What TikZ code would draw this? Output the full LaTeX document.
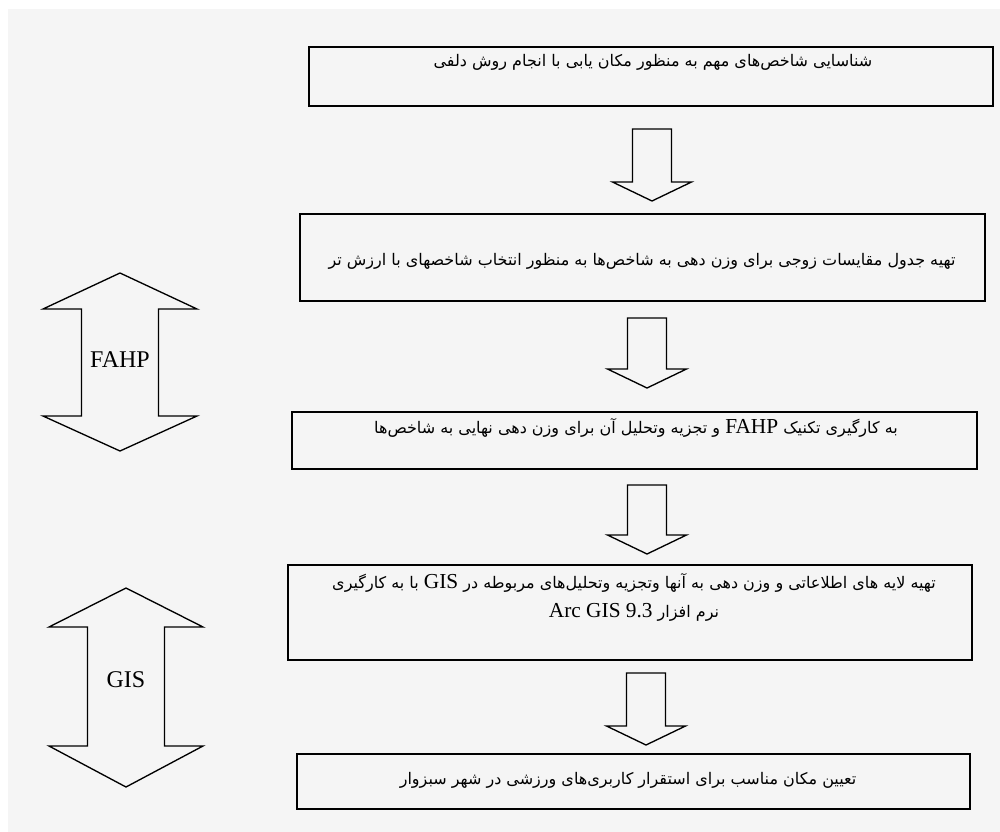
\documentclass[tikz,border=0pt]{standalone}
\usepackage{fontspec}
\setmainfont{Liberation Serif}
\newfontfamily\fa[Script=Arabic]{DejaVu Sans}
\TeXXeTstate=1
\definecolor{bg}{HTML}{F5F5F5}
\newcommand\BlockDown[4]{%
  \draw[blockarrow] ({#1-19.5},#2) -- ({#1+19.5},#2) -- ({#1+19.5},#3) -- ({#1+39.5},#3) -- (#1,#4) -- ({#1-39.5},#3) -- ({#1-19.5},#3) -- cycle;}
\newcommand\BlockDouble[5]{%
  \draw[blockarrow] (#1,#2) -- ({#1+77},#3) -- ({#1+38.5},#3) -- ({#1+38.5},#4) -- ({#1+77},#4) -- (#1,#5) -- ({#1-77},#4) -- ({#1-38.5},#4) -- ({#1-38.5},#3) -- ({#1-77},#3) -- cycle;}
\newcommand\lat[1]{\beginL{\rmfamily\fontsize{16}{16}\selectfont #1}\endL{}}
\begin{document}
\begin{tikzpicture}[x=0.75pt,y=-0.75pt,
  box/.style={draw=black, line width=1.4pt, fill=bg, inner sep=0pt},
  fatext/.style={inner sep=0pt, font=\fa\fontsize{12}{22}\selectfont, align=center},
  lbl/.style={inner sep=0pt, font=\fontsize{18}{20}\selectfont},
  blockarrow/.style={draw=black, line width=1pt, line join=miter, fill=bg}]
\useasboundingbox (0,0) rectangle (1000,832);
\fill[white] (0,0) rectangle (1000,832);
\fill[bg] (8,9) rectangle (1000,832);
% boxes
\node[box, minimum width={684*0.75pt}, minimum height={59*0.75pt}] (b1) at (651,76.5) {};
\node[box, minimum width={685*0.75pt}, minimum height={87*0.75pt}] (b2) at (642.5,257.5) {};
\node[box, minimum width={685*0.75pt}, minimum height={57*0.75pt}] (b3) at (634.5,440.5) {};
\node[box, minimum width={684*0.75pt}, minimum height={95*0.75pt}] (b4) at (630,612.5) {};
\node[box, minimum width={673*0.75pt}, minimum height={55*0.75pt}] (b5) at (633.5,781.5) {};
% texts
\node[fatext] (t1) at (653,62) {\beginR شناسایی شاخص‌های مهم به منظور مکان یابی با انجام روش دلفی\endR};
\node[fatext] (t2) at (642,261) {\beginR تهیه جدول مقایسات زوجی برای وزن دهی به شاخص‌ها به منظور انتخاب شاخصهای با ارزش تر\endR};
\node[fatext] (t3) at (636,428) {\beginR به کارگیری تکنیک \lat{FAHP}  و تجزیه وتحلیل آن برای وزن دهی نهایی به شاخص‌ها\endR};
\node[fatext, anchor=north] (t4) at (634,573) {\beginR تهیه لایه های اطلاعاتی و وزن دهی به آنها وتجزیه وتحلیل‌های مربوطه در \lat{GIS} با به کارگیری\endR\\
\beginR نرم افزار \lat{Arc GIS 9.3}\endR};
\node[fatext] (t5) at (628,780) {\beginR تعیین مکان مناسب برای استقرار کاربری‌های ورزشی در شهر سبزوار\endR};
% down arrows
\BlockDown{652}{129}{182}{201}
\BlockDown{647}{318}{369}{388}
\BlockDown{647}{485}{535}{554}
\BlockDown{646}{673}{726}{745}
% double arrows
\BlockDouble{120}{273}{309}{416}{451}
\BlockDouble{126}{588}{627}{746}{787}
\node[lbl] (lf) at (120,360) {FAHP};
\node[lbl] (lg) at (126,680) {GIS};
\end{tikzpicture}
\end{document}
